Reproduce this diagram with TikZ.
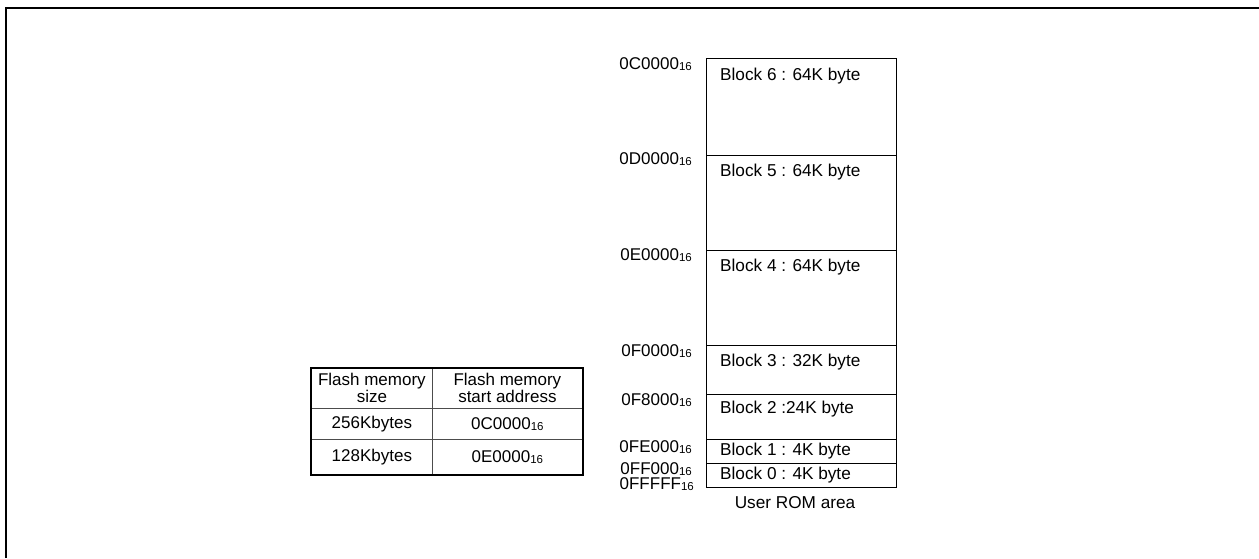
\documentclass[tikz,border=0pt]{standalone}
\usepackage{fontspec}
\setmainfont{Liberation Sans}
\usetikzlibrary{positioning,fit}

\newcommand{\hexaddr}[1]{#1\raisebox{-1.5pt}{\fontsize{11.5}{11.5}\selectfont 16}}

\begin{document}
\begin{tikzpicture}[
    x=1pt, y=-1pt,
    blk/.style={draw, line width=1.3pt, minimum width=190pt, anchor=north west, inner sep=0pt},
    blktxt/.style={anchor=west, inner sep=0pt, font=\fontsize{17.2}{19}\selectfont},
    addr/.style={anchor=east, inner sep=0pt, font=\fontsize{17}{19}\selectfont},
    cell/.style={draw=black!70, line width=0.8pt, anchor=north west, inner sep=0pt, align=center, font=\fontsize{17}{17}\selectfont}
]
\useasboundingbox (0,0) rectangle (1259,558);
\draw[line width=2.6pt] (6,558) -- (6,8) -- (1259,8);

% user ROM blocks
\node[blk, minimum height=97pt] (b6) at (706,58) {};
\node[blk, minimum height=95pt] (b5) at (706,155) {};
\node[blk, minimum height=95pt] (b4) at (706,250) {};
\node[blk, minimum height=49pt] (b3) at (706,345) {};
\node[blk, minimum height=45pt] (b2) at (706,394) {};
\node[blk, minimum height=24pt] (b1) at (706,439) {};
\node[blk, minimum height=24pt] (b0) at (706,463) {};

\node[blktxt] (t6) at (720,76) {Block 6 : 64K byte};
\node[blktxt] (t5) at (720,172) {Block 5 : 64K byte};
\node[blktxt] (t4) at (720,267) {Block 4 : 64K byte};
\node[blktxt] (t3) at (720,362) {Block 3 : 32K byte};
\node[blktxt] (t2) at (720,409) {Block 2 :24K byte};
\node[blktxt] (t1) at (720,451) {Block 1 : 4K byte};
\node[blktxt] (t0) at (720,475) {Block 0 : 4K byte};

\node[font=\fontsize{17.2}{19}\selectfont, inner sep=0pt] (rom) at (795,503) {User ROM area};

% addresses
\node[addr] (a6) at (692,64) {\hexaddr{0C0000}};
\node[addr] (a5) at (692,159) {\hexaddr{0D0000}};
\node[addr] (a4) at (692,255) {\hexaddr{0E0000}};
\node[addr] (a3) at (692,351) {\hexaddr{0F0000}};
\node[addr] (a2) at (692,400) {\hexaddr{0F8000}};
\node[addr] (a1) at (692,447) {\hexaddr{0FE000}};
\node[addr] (a0) at (692,469) {\hexaddr{0FF000}};
\node[addr] (aend) at (694,484) {\hexaddr{0FFFFF}};

% start address table
\node[cell, minimum width=121pt, minimum height=40pt] (c11) at (311,368) {Flash memory\\size};
\node[cell, minimum width=150pt, minimum height=40pt] (c12) at (432,368) {Flash memory\\start address};
\node[cell, minimum width=121pt, minimum height=31pt] (c21) at (311,408) {256Kbytes};
\node[cell, minimum width=150pt, minimum height=31pt] (c22) at (432,408) {\hexaddr{0C0000}};
\node[cell, minimum width=121pt, minimum height=35pt] (c31) at (311,439) {128Kbytes};
\node[cell, minimum width=150pt, minimum height=35pt] (c32) at (432,439) {\hexaddr{0E0000}};
\node[draw, line width=1.5pt, inner sep=0pt, fit=(c11)(c32)] (tbl) {};
\end{tikzpicture}
\end{document}
